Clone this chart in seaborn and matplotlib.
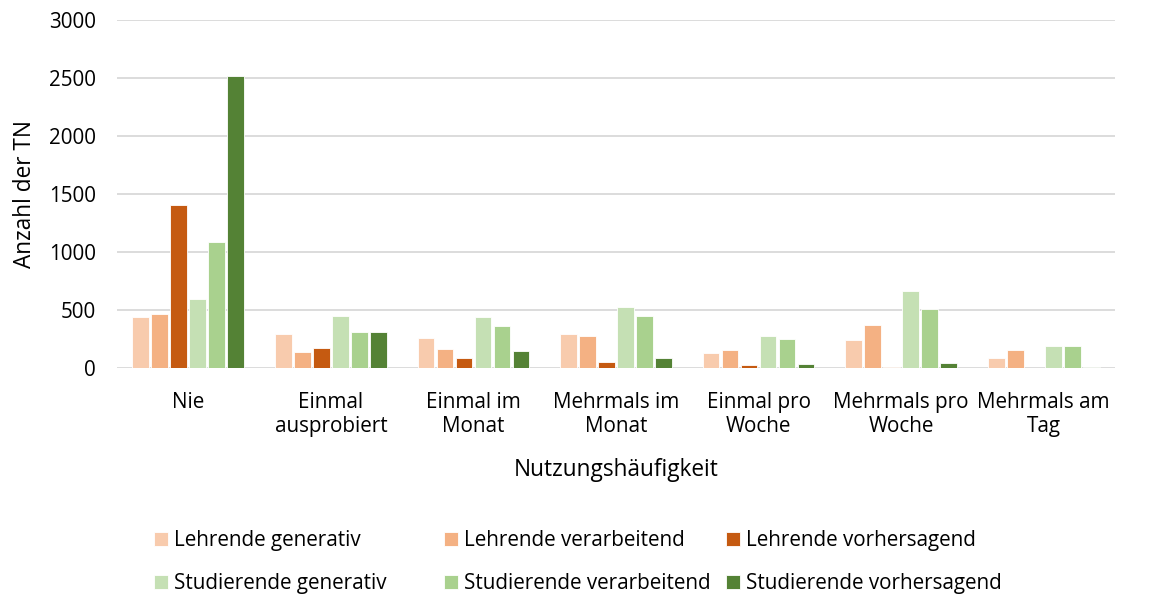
import pandas as pd
import matplotlib
matplotlib.use("Agg")
import matplotlib.pyplot as plt
import seaborn as sns

# ------------------------------------------------------------------
# Data
# ------------------------------------------------------------------
categories = [
    "Nie",
    "Einmal\nausprobiert",
    "Einmal im\nMonat",
    "Mehrmals im\nMonat",
    "Einmal pro\nWoche",
    "Mehrmals pro\nWoche",
    "Mehrmals am\nTag",
]
series_names = [
    "Lehrende generativ",
    "Lehrende verarbeitend",
    "Lehrende vorhersagend",
    "Studierende generativ",
    "Studierende verarbeitend",
    "Studierende vorhersagend",
]
lehrende_generativ = [440, 289, 257, 295, 127, 243, 90]
lehrende_verarbeitend = [466, 141, 167, 277, 159, 373, 156]
lehrende_vorhersagend = [1405, 171, 84, 52, 23, 11, 4]
studierende_generativ = [591, 451, 442, 529, 277, 667, 188]
studierende_verarbeitend = [1089, 306, 364, 445, 249, 505, 188]
studierende_vorhersagend = [2517, 312, 145, 84, 35, 41, 12]
y_ticks = [0, 500, 1000, 1500, 2000, 2500, 3000]

colors = ["#F8CBAD", "#F4B183", "#C55A11", "#C5E0B4", "#A9D18E", "#548235"]

all_values = [
    lehrende_generativ,
    lehrende_verarbeitend,
    lehrende_vorhersagend,
    studierende_generativ,
    studierende_verarbeitend,
    studierende_vorhersagend,
]
rows = []
for name, vals in zip(series_names, all_values):
    for cat, v in zip(categories, vals):
        rows.append({"Kategorie": cat, "Anzahl": v, "Gruppe": name})
df = pd.DataFrame(rows)

# ------------------------------------------------------------------
# Plot
# ------------------------------------------------------------------
sns.set_style("white")
plt.rcParams["font.family"] = ["Open Sans", "DejaVu Sans"]
FS = 14.9       # ticks + legend
FS_TITLE = 16.3  # axis titles

fig = plt.figure(figsize=(11.52, 5.97), dpi=100)
ax = fig.add_axes([0.1016, 0.3836, 0.8663, 0.5829])

sns.barplot(
    data=df, x="Kategorie", y="Anzahl", hue="Gruppe",
    order=categories, hue_order=series_names, palette=colors,
    width=0.8, gap=0.12, edgecolor="white", linewidth=0.6,
    saturation=1, ax=ax,
)

ax.set_ylim(0, 3000)
ax.set_yticks(y_ticks)
ax.yaxis.grid(True, color="#D9D9D9", linewidth=1.3)
ax.set_axisbelow(True)
for s in ax.spines.values():
    s.set_visible(False)

ax.tick_params(axis="y", length=0, pad=15, labelsize=FS, labelcolor="black")
ax.tick_params(axis="x", length=0, pad=17, labelsize=FS, labelcolor="black")
for lbl in ax.get_xticklabels():
    lbl.set_linespacing(1.2)

ax.set_xlabel("Nutzungshäufigkeit", fontsize=FS_TITLE, labelpad=15, color="black")
ax.set_ylabel("Anzahl der TN", fontsize=FS_TITLE, labelpad=9, color="black")

handles, labels = ax.get_legend_handles_labels()
ax.get_legend().remove()

# one legend per column, like the Excel layout
col_x = [154, 444, 726]
for i, x in enumerate(col_x):
    leg = fig.legend(
        [handles[i], handles[i + 3]], [labels[i], labels[i + 3]],
        loc="upper left", bbox_to_anchor=(x / 1152, 1 - 530 / 597),
        frameon=False, fontsize=FS, handlelength=0.7, handleheight=0.7,
        handletextpad=0.25, labelspacing=1.08, borderpad=0, borderaxespad=0,
        labelcolor="black",
    )

fig.savefig("out.png", dpi=100)
